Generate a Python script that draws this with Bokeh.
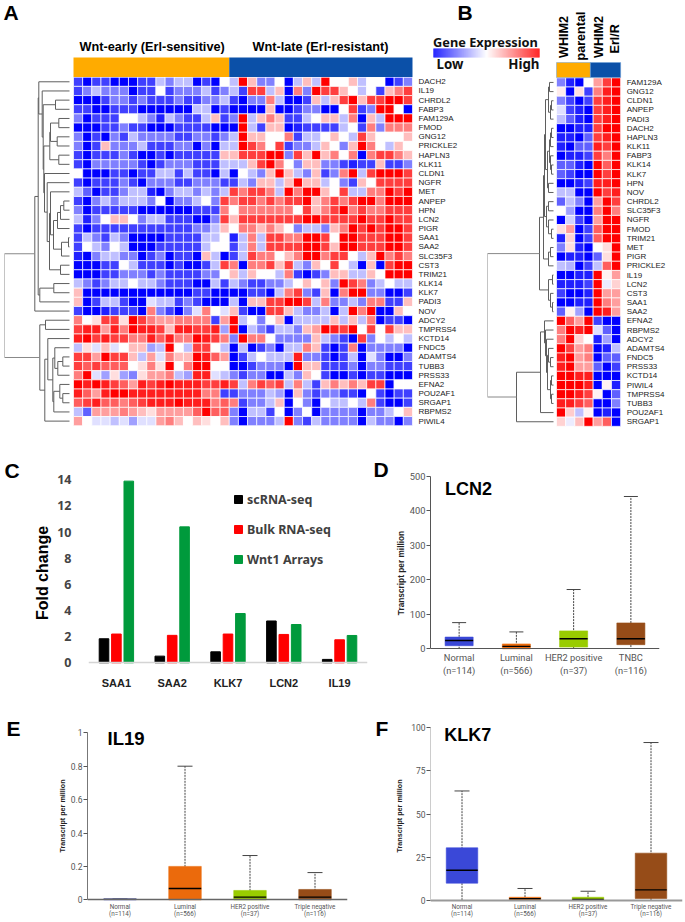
from bokeh.plotting import figure
from bokeh.layouts import column, row
from bokeh.models import (Range1d, LinearColorMapper, Label, Legend, LegendItem,
                          FixedTicker, Whisker, TeeHead, ColumnDataSource)
from bokeh.core.properties import value
from bokeh.embed import file_html
from bokeh.resources import INLINE
import math

# ---------- Panel A ----------
A_GENES = ["DACH2","IL19","CHRDL2","FABP3","FAM129A","FMOD","GNG12","PRICKLE2","HAPLN3","KLK11","CLDN1","NGFR",
           "MET","ANPEP","HPN","LCN2","PIGR","SAA1","SAA2","SLC35F3","CST3","TRIM21","KLK14","KLK7","PADI3","NOV",
           "ADCY2","TMPRSS4","KCTD14","FNDC5","ADAMTS4","TUBB3","PRSS33","EFNA2","POU2AF1","SRGAP1","RBPMS2","PIWIL4"]
A_EARLY = [
 [-3,-4,-3,-3,-4,-4,-4,-3,-3,-1,-2,-1,-1,-4,-3,-4,0],
 [-3,-2,-1,-2,-2,-2,-4,-3,-3,0,-3,-2,-2,-2,-1,-3,-2],
 [-4,-4,-4,-3,-2,-2,-3,-2,-3,-3,-3,-2,-3,-3,-2,-2,-1],
 [-3,-3,-4,-4,-3,-3,-3,-4,-4,-4,-4,-4,-4,-1,-1,-4,-3],
 [-2,-4,-3,-3,-3,0,0,-1,-2,-3.5,-1,-2,-3,-3,-1,1,-3],
 [-4,-4,-4,-3,-3,-2,-3,-3,-4,-4,-4,-3,-3,-3,-3,-4,-4],
 [-2,-4,-3,-4,-2,-3,-1,-2,-2,-2,-2,-3,-3,-2,-2,-3,-2],
 [-2,-4,-3,1,-2,-2,-2,-1,-3,-3,-3,-2,-2,-4,-2,-4,-1],
 [-3,-4,-3,-3,-3,-2,-3,-4,-4,-3,-4,-3,-3,-3,-3,-3,1],
 [-3,-4,-2,-2,-2,-2,-2,-3,-4,-3,-2,-2,-2,-3,-3,-3,-1],
 [0,-4,-4,-4,-3,-3,-4,-3,-3,-1,-1,-3,-1,-3,-3,-4,-1],
 [-3,-4,-3,-3,-3,-2,-3,-4,-2,-2,-2,-3,-3,-2,-2,-2,-3],
 [-1,-2.5,-4,-3,-3,-2,-1,-1,-3.5,-4,-2,-1,-1,-2,-1,-2,-1],
 [-3,-4,-2,-1,-2,-1,-1,-1,-2,0,-4,-2,-2,-1,0,-2,3],
 [-2,-4,-3,-3,-3,-3,-3,-4,-4,-4,-4,-4,-4,-3,-3,-3,2],
 [-1,-3.5,-2,0,1,1,0,-2,-1,-1,-3,-3,-3,-4,-4,-2,3],
 [-3,-4,-3,-3,-3,-3,-3,-3,-3,-3,-3,-3,-3,-2,-2,-1,1],
 [-3,-1,-2,-3,-1,-2,-4,-4,-4,-4,-3,-3,-3,-3,-1,-1,0],
 [-3,0,-1,-2,0,-1,-4,-4,-4,-3,-3,-3,-3,-3,-1,0,0],
 [-3.5,-4,-2,-1,-1,-2,-2,-4,-3,-2,-4,-3,-3,-4,1,-1,-4],
 [-4,-4,-4,-3,-3,0,-1,-3,-3,-3,-4,-3,-4,-4,-3,-1,3],
 [-4,-4,-4,-3,-3,-2,-2,-2,-3,-2,-3,-3,-3,-3,-2,-2,0],
 [-1,-2,-3,-2,-1,-1,0,-1,-1,-2,-3,-3,-3,-4,-4,-1,-3],
 [1,-4,-4,-4,-4,-4,-4,-4,-4,-4,-4,-4,-4,-3,-3,-4,-4],
 [1,-4,-3,-1,-1,-3,-4,-4,-0.5,-1,-1,-3,-2,-3,-4,-4,-4],
 [-3,-4,-4,-3.5,-3,-3,-3,-4,2,-2,-3,-4,-2,-0.5,2,0,-0.5],
 [2,0,0.5,3,3,0.5,4,3,2,1.5,1.5,2,2,2,2,-3,1.5],
 [3,3.5,3.5,1.5,3.5,2,4,3.5,3.5,3,1,3.5,3.5,3,3,3.5,-1.5],
 [3.5,4,3,3.5,3,3,2,2,3.5,2.5,3.5,2,2,4,3.5,3,2],
 [-1,0.5,-0.5,1,-0.5,0,1,1,-1.5,-1,4,0,-1,3,3,0,-1],
 [3,3,1.5,4,3,3,1,-1,1.5,-0.5,2,1,1,4,3.5,2.5,1.5],
 [3,2.5,3,2.5,2.5,2.5,0,0.5,2,0.5,4,0,2,4,4,0,0],
 [2,4,-0.5,-1.5,0.5,-1.5,-2,0.5,1.5,1.5,2,-1,-1.5,3.5,3.5,-0.5,-1],
 [4,3.5,4,3.5,3,2.5,1.5,3.5,3,3.5,4,3.5,3.5,3.5,3,3,3.5],
 [3.5,2.5,1.5,3.5,4,4,3.5,3.5,3.5,3.5,3.5,3.5,3.5,3.5,2,2,-3],
 [2.5,3,3.5,2.5,2.5,2,2.5,3,3.5,3.5,3.5,4,3.5,3.5,3.5,2,2.5],
 [-1,-2.5,1.5,1.5,1.5,2,1.5,1,0.5,1.5,1.5,1.5,1.5,2.5,4,2.5,2.5],
 [1.5,0,-0.5,-0.5,-1,-0.5,-1.5,-0.5,-0.5,1.5,2,1,0,1,0.5,0,1],
]
A_LATE = [
 [-1,4,1,-2,-2,0,-4,-1,1,-1,4,0,0,1,-1,0,0,-4,-3,-2],
 [-1,-3,3,3,-1,1,-4,2,-2,4,3,3,1,0,-1,0,-3,1,2,3],
 [-3,-4,-2,-2,2,-1,-4,-4,-3,1,-1,1,3,4,1,3,3,4,4,3],
 [-4,-4,-4,-4,1,-4,-4,-3,-2,-2,-4,-4,0,3,-3,-2,4,4,0,-4],
 [-2,4,-1,1,2,1,-3,-3,-1,0,1,1,-1,2,-4,1,-1,4,4,4],
 [-4,4,-1,-3,1,1,-4,-3.5,-3,-3,-3,-3,-1,0,-3,2,-2,2,2,2],
 [-1,4,1,1,0,0,2,-3,-1,-1,0,1,0,-1,3,1,0,0,0,1],
 [-1,4,3,2,0,3,-3,-2,-2,-1,1,0,-2,1,4,2,0,-1,1,0],
 [1,3,3,3,4,4,-2,3,1,4,1,2,0,2,-4,2,3,3,2,1],
 [-1,-1,1,3,4,2,0,-2,1,1,-2,-2,-3,-3.5,-3,-3,1,-3,-3,-2],
 [-4,0,-1,-2,1,4,1,-1,-2,1,-3,-2,2,4,-1,3,4,4,4,3],
 [-3,-1,-2,1,1,-1,1,4,1,1,-1,0,-2,-3,1,0,3,3,3,3],
 [3,2,3,3,2,-1,4,2,4,4,1,0,3,-1,-1,2,2,4,3,4],
 [2,3,3,2,3,2,3,3,4,1,2,3,2,3,4,4,2,4,4,4],
 [0,2,2,2,2,2,2,0,3,1,2,3,4,2,3,2,2,3,3,3],
 [1,3,3,3,3,3,3,3,4,4,3,3,3,3,4,3,3,4,3,3],
 [0,2,2,1,2,1,0,-2,-1,-1,-2,1,2,4,3,4,3,4,4,3],
 [-3.5,-1,2,-1,3,3,2,2,4,4,3,0,4,4,3,3,3,4,4,3],
 [-3,-1,2,-1,3,3,3,3,4,4,3,1,4,4,3,3,3,4,4,3],
 [-3,-1,3,2,2,0,1,2,4,4,2,3,3,0,-1,1,4,2,3,2],
 [2,-4,2,2,3,1,3,-1,-2,1,0,3,0,-1,-4,1,-4,3,4,4],
 [1,-1,1,0,0,-1,2,-3,-4,-3,-2,1,1,-1,-1,1,0,4,4,4],
 [-1,-2,-3,-3,-2,-2,-1,0,1,0,1,-2,4,3,2,-2,-1,0,-1,-1],
 [-4,-4,-3,-3,-4,-1,2,3,-2,-3,1,-4,2,4,4,-2,-2,-4,-4,-3],
 [-1,-4,1,1,3,3,4,4,3,-1,2,-2,-2,-1,-2,2,2,-3,-3,1],
 [1,-3,-4,-4,3,3,1,-1,-2,-2,-1,-4,-1,4,2,4,-4,-4,1,0],
 [4,-1,0,-2,0,1,-4,-1,-1,-1,-1,1,-1,1,-1,2,-4,-3,-3,-4],
 [4,-4,-1,-2,-3,-1,-1,-2,1,1.5,4,3.5,3,4,0,3,0,3,1,1],
 [-2,4,2,2,0,-2,-2,-2,-2,1,-1,-2,-3,-4,3,-2,0,-1,0,-1],
 [-4,-1,-4,-3,-2,-4,-1,-1,2,1,-3,-4,-3,2,-4,-2,-2,-2,-2,-4],
 [-4,-3,-1,0,-1,-1,-1,3.5,-2,-2,-3,-4,-3,-1,-4,-0.5,-2,-4,-4,-2],
 [-4,-4,-3,-2,-2,-2,-4,4,1,1,-3,-3,-3,-2,-4,-2,-2,-3,-3,-3],
 [-2,-3,-2,-2,-4,-4,-1,-2,1,0,-3,-4,-4,-3,-4,-3,-3,-4,-4,-4],
 [3,-1,2,3,2.5,3,-1,2,-1,-3,1,2,1,2,1,3,3,-4,0,0],
 [-3,-2,-2,-2,-1,-1.5,-4,1,-2,-3,-2,-2,-3,-3,-4,0,-3,-4,-3,-3],
 [2,-3,-2,-2,-1,1,-4,0,-2,-4,0,-1,-1,0,-1,2,-3,-4,-4,-3],
 [-2,-4,-1,-1,-3,0,-4,-2,0,-4,-2,-2,-2,-2,-4,-2,-2,-1,0,1],
 [-2,-4,-2,-2,-2,-1,4,-2,-3,-1,-2,-2,-2,-2,-4,-1,-2,-2,-4,-2],
]
A_TREE = (65,
  (34.7,
    (31.3,
      (30.7,"DACH2",(27.3,"IL19",(26.3,(14,"CHRDL2","FABP3"),
        (25.7,(19.7,(19,(10.7,"FAM129A","FMOD"),(12.3,"GNG12","PRICKLE2")),(10.7,"HAPLN3","KLK11")),
          (25,"CLDN1",(22.3,"NGFR",(20,(19,"MET",(16,(12,(9,(5.7,"ANPEP","HPN"),"LCN2"),"PIGR"),
             (8,(1,"SAA1","SAA2"),"SLC35F3"))),(9,"CST3","TRIM21")))))))),
      (29.7,(15.7,"KLK14","KLK7"),"PADI3")),
    "NOV"),
  (29.7,(24,"ADCY2","TMPRSS4"),
    (24.7,(21.7,"KCTD14",(16.7,(14.7,"FNDC5",(11.7,(6.7,"ADAMTS4","TUBB3"),"PRSS33")),
        (15.7,(9.7,"EFNA2",(6.7,"POU2AF1","SRGAP1")),"RBPMS2"))),"PIWIL4")))

# ---------- Panel B ----------
B_GENES = ["FAM129A","GNG12","CLDN1","ANPEP","PADI3","DACH2","HAPLN3","KLK11","FABP3","KLK14","KLK7","HPN","NOV",
           "CHRDL2","SLC35F3","NGFR","FMOD","TRIM21","MET","PIGR","PRICKLE2","IL19","LCN2","CST3","SAA1","SAA2",
           "EFNA2","RBPMS2","ADCY2","ADAMTS4","FNDC5","PRSS33","KCTD14","PIWIL4","TMPRSS4","TUBB3","POU2AF1","SRGAP1"]
B_PARENTAL = [
 [-2,-3.5,-4,0],[0.3,-4,0.5,-3],[-2,-3,-4,-3],[-0.5,-3,-3.5,-4],[-1,-2.5,-3.5,-4],[-4,-4,-3.5,-3.5],
 [-3.5,-3.5,-4,-2.5],[-3.5,-4,-2.5,-2.5],[-4,-3.5,-3.5,-3],[-2.5,-2.5,-3.5,-4],[-2.5,-3,-4,-4],[-4,-4,-3.5,-3],
 [-1,-1,-4,-4],[-2.5,-1,-2,-4],[0,-1.5,-4,-4],[-4,-0.7,-3,-4],[0.5,1.5,-4,-3],[-3.5,0.7,-4,-3],[-2,0.5,-3.5,-4],
 [-4,-3.5,-3.5,-4],[-1,-1.2,-4,-3],[-4,-4,-3.5,-3.5],[-3.5,-3.5,-3.5,-3],[-3,-4,-4,-3.5],[-4,-4,-3.5,-3.5],
 [-2.5,0.2,-1.5,-4],[4,2.5,1.5,4],[2,4,3.5,4],[2,4,0.7,0],[4,3,1.5,2],[3.5,4,1.5,2],[3.5,4,1.5,1.5],
 [4,4,3.5,3.5],[4,4,4,3.5],[4,4,3.5,3],[3.5,3.5,3,2.5],[4,0.8,-1,0.2],[0.7,-0.3,1,4],
]
B_RESISTANT = [
 [1.5,3,4],[2,3.5,4],[3,3.5,4],[3,3.5,4],[3,3.5,4],[3,4,4],[3,3.5,4],[3.5,3,4],[3,2,4],[4,2.5,4],[4,3,4],[3.5,3.5,4],
 [4,3,3.5],[1.5,4,3],[2,4,2],[1.5,4,4],[2.5,4,4],[2.5,4,4],[0,0.5,4],[-2.5,0.5,4],[-1,2.5,4],[4,0.2,1.5],[4,-0.3,0.7],
 [4,1.5,1.5],[4,2,1.5],[4,3.5,1.5],[-3,-4,-4],[-0.5,-2.5,-4],[-3.5,-1.5,-4],[-4,-3.5,-1],[-4,-2.5,-2.5],[-2.5,-4,-3],
 [-4,-4,-4],[-4,0.2,-3.5],[0.2,-4,-2.5],[-4,-4,-2],[-4,-3.5,-4],[1.5,2.5,-4],
]
B_TREE = (66,
  (14,(10,(9,(8,(5,(4,"FAM129A","GNG12"),(3,(2,"CLDN1","ANPEP"),"PADI3")),
              (6,(4,(3,(2,"DACH2","HAPLN3"),"KLK11"),(3,"FABP3",(2,"KLK14","KLK7"))),(5,"HPN","NOV"))),
            (7,(5,"CHRDL2","SLC35F3"),(5,"NGFR",(2,"FMOD","TRIM21")))),
        (5,(3,"MET","PIGR"),"PRICKLE2")),
      (5,(1,"IL19","LCN2"),(3,"CST3",(1,"SAA1","SAA2")))),
  (37,(13,(9,"EFNA2",(8,"RBPMS2",(7,"ADCY2",(6,(5,"ADAMTS4",(3,"FNDC5","PRSS33")),
        (3,(2,"KCTD14","PIWIL4"),(2,"TMPRSS4","TUBB3")))))),"POU2AF1"),"SRGAP1"))

# ---------- Panel C ----------
C_GENES = ["SAA1","SAA2","KLK7","LCN2","IL19"]
C_SC = [1.84,0.51,0.84,3.2,0.26]
C_BULK = [2.2,2.1,2.2,2.17,1.76]
C_WNT = [13.9,10.4,3.77,2.93,2.09]

# ---------- Panels D, E, F ----------
D_CATS = ["Normal\n(n=114)","Luminal\n(n=566)","HER2 positive\n(n=37)","TNBC\n(n=116)"]
D_HI = [76,49,172,442]; D_Q3 = [34,14,52,75]; D_MED = [24,7,29,29]; D_Q1 = [9,0,5,12]; D_LO = [0,0,2,5]
EF_CATS = ["Normal\n(n=114)","Luminal\n(n=566)","HER2 positive\n(n=37)","Triple negative\n(n=116)"]
E_HI = [0.006,0.80,0.265,0.163]; E_Q3 = [0.006,0.20,0.056,0.062]; E_MED = [0.003,0.068,0.016,0.016]; E_Q1 = [0,0,0,0]; E_LO = [0,0,0,0]
F_HI = [63.4,6.8,5.2,91.5]; F_Q3 = [30.4,1.7,1.7,27.3]; F_MED = [17.4,0.8,0.5,6]; F_Q1 = [9.9,0,0,1]; F_LO = [0,0,0,0]
BOX_COLORS = ["#3A48D8","#EB6A0C","#99CC00","#964C18"]

SANS = "Liberation Sans"
N = 256
PAL = []
for i in range(N):
    t = i/(N-1)*2-1
    if t < 0:
        c = int(round(255*(1+t))); PAL.append("#%02x%02xff" % (c,c))
    else:
        c = int(round(255*(1-t))); PAL.append("#ff%02x%02x" % (c,c))
MAP = LinearColorMapper(palette=PAL, low=-4, high=4)

def base(width, height, x_range, y_range, ox, oy, left=0, right=0, top=0, bottom=0):
    p = figure(width=width, height=height, x_range=x_range, y_range=y_range, toolbar_location=None,
               output_backend="svg", min_border_left=left, min_border_right=right, min_border_top=top,
               min_border_bottom=bottom, outline_line_color=None)
    p.xgrid.visible = False; p.ygrid.visible = False
    p.extra_x_ranges["px"] = Range1d(ox+left, ox+width-right)
    p.extra_y_ranges["px"] = Range1d(oy+height-bottom, oy+top)
    return p

def put(p, text, x, y, size, bold=False, color="#000000", font=SANS, align="left", angle=0):
    p.add_layout(Label(x=x, y=y, text=text, x_range_name="px", y_range_name="px",
        text_font=font, text_font_size=f"{size}px", text_font_style="bold" if bold else "normal",
        text_color=color, text_align=align, text_baseline="middle", angle=angle))

def dendro(p, tree, order, leaf_gap, scale, n, x0=0, y0=0):
    idx = {g:i for i,g in enumerate(order)}
    xs0, ys0, xs1, ys1, cols = [], [], [], [], []
    def X(h): return x0-(h+leaf_gap)/scale
    def walk(node, root=False):
        if isinstance(node, str):
            return n-idx[node]-0.5+y0, 0
        h, a, b = node
        ya, ha = walk(a); yb, hb = walk(b)
        col = "#c4c4c4" if root else "#5f5f5f"
        for yy, hh in ((ya,ha),(yb,hb)):
            xs0.append(X(h)); xs1.append(X(hh)); ys0.append(yy); ys1.append(yy); cols.append("#888888" if root else col)
        xs0.append(X(h)); xs1.append(X(h)); ys0.append(ya); ys1.append(yb); cols.append(col)
        return (ya+yb)/2, h
    walk(tree, True)
    p.segment(xs0, ys0, xs1, ys1, line_color=cols, line_width=1)

def heat(p, matrix, nrows, x0=0, y0=0):
    xs, ys, vals = [], [], []
    for r, rowv in enumerate(matrix):
        for c, v in enumerate(rowv):
            xs.append(x0+c+0.5); ys.append(nrows-r-0.5+y0); vals.append(v)
    src = ColumnDataSource(dict(x=xs, y=ys, v=vals))
    p.rect("x", "y", width=1, height=1, source=src, fill_color={"field":"v","transform":MAP},
           line_color="white", line_width=0.7)

def cat_axis(p, cats):
    centers = [i+0.5 for i in range(len(cats))]
    p.xaxis.ticker = FixedTicker(ticks=centers)
    p.xaxis.major_label_overrides = dict(zip(centers, cats))
    p.xaxis.major_tick_out = 0; p.xaxis.major_tick_in = 0; p.xaxis.minor_tick_out = 0
    p.xaxis.fixed_location = 0
    return centers

def letter(width, height, ox, oy, top, bottom, text, x, y):
    p = base(width, height, Range1d(0, 1), Range1d(0, 1), ox, oy, top=top, bottom=bottom)
    p.axis.visible = False
    p.scatter([0.5], [0.5], size=0, alpha=0)
    put(p, text, x, y, 21, True)
    return p

ORANGE, BLUE = "#FFAB00", "#0B50A8"

# ---- top figure: panels A and B ----
assert all(len(r)==17 for r in A_EARLY) and all(len(r)==20 for r in A_LATE) and len(A_EARLY)==38==len(A_LATE)
assert all(len(r)==4 for r in B_PARENTAL) and all(len(r)==3 for r in B_RESISTANT) and len(B_PARENTAL)==38==len(B_RESISTANT)
cw, ch = 9.162, 9.17
xB = (556-73)/cw
yB = -0.07
pT = base(685, 445, Range1d(-73/cw, (685-73)/cw), Range1d(-(445-425.2)/ch, 38+76.7/ch), 0, 0)
pT.axis.visible = False
heat(pT, [a+b for a,b in zip(A_EARLY, A_LATE)], 38)
pT.quad(left=[0,17], right=[17,37], bottom=[38.03]*2, top=[38+(76.7-57)/ch]*2, fill_color=[ORANGE,BLUE], line_color=None)
dendro(pT, A_TREE, A_GENES, 4, cw, 38)
pT.text(x=[37+6/cw]*38, y=[38-i-0.5 for i in range(38)], text=A_GENES, text_font=value(SANS), text_font_size="8px",
        text_baseline="middle", text_color="#222222")
put(pT, "A", 3, 12, 21, True)
put(pT, "Wnt-early (Erl-sensitive)", 79, 46, 12.7, True)
put(pT, "Wnt-late (Erl-resistant)", 252, 46, 12.7, True)

heat(pT, [a+b for a,b in zip(B_PARENTAL, B_RESISTANT)], 38, xB, yB)
pT.quad(left=[xB,xB+3.7], right=[xB+3.7,xB+7], bottom=[38.03+yB]*2, top=[38+(76.7-62)/ch]*2, fill_color=[ORANGE,BLUE], line_color="#6fa0d8", line_width=0.5)
dendro(pT, B_TREE, B_GENES, 3, cw, 38, xB, yB)
pT.text(x=[xB+7+6/cw]*38, y=[38-i-0.5+yB for i in range(38)], text=B_GENES, text_font=value(SANS), text_font_size="8px",
        text_baseline="middle", text_color="#222222")
KEY = [-4+8*i/105 for i in range(106)]
pT.rect(x=[(433+i+0.5-73)/cw for i in range(106)], y=[38+(76.7-52.5)/ch]*106, width=1.2/cw, height=9/ch,
        fill_color=[PAL[min(255,int((k+4)/8*255))] for k in KEY], line_color=None)
put(pT, "B", 457, 12, 21, True)
put(pT, "Gene Expression", 432.5, 41, 12.8, True, "#111111", "Noto Sans")
put(pT, "Low", 436, 63, 13.3, True, "#111111", "Noto Sans")
put(pT, "High", 539, 63, 13.3, True, "#111111", "Noto Sans", align="right")
put(pT, "WHIM2", 563, 57.5, 12.6, True, angle=math.pi/2)
put(pT, "parental", 580, 60, 12.6, True, angle=math.pi/2)
put(pT, "WHIM2", 598, 57.5, 12.6, True, angle=math.pi/2)
put(pT, "Erl/R", 614, 53, 12.6, True, angle=math.pi/2)

# ---- C ----  (frames of a row are aligned by Bokeh, so both rows share a tall frame and the
#                value-axes are pinned at 0 with fixed_location)
R2_TOP, R2_BOTTOM = 10, 0     # frame y = 455 .. 690
pxC = 13.07
lC = letter(30, 245, 0, 445, R2_TOP, R2_BOTTOM, "C", 4, 469.5)
pC = base(342, 245, Range1d(0, 5), Range1d(-(690-662.3)/pxC, (662.3-455)/pxC), 30, 445, left=58, right=5, top=R2_TOP, bottom=R2_BOTTOM)
cx = cat_axis(pC, C_GENES)
bw, off = 0.172, 0.222
r1 = pC.vbar(x=[c-off for c in cx], top=C_SC, width=bw, color="#000000")
r2 = pC.vbar(x=cx, top=C_BULK, width=bw, color="#FF0000")
r3 = pC.vbar(x=[c+off for c in cx], top=C_WNT, width=bw, color="#009A3C")
pC.yaxis.ticker = FixedTicker(ticks=[0,2,4,6,8,10,12,14])
pC.yaxis.axis_line_color = None; pC.yaxis.major_tick_line_color = None; pC.yaxis.minor_tick_line_color = None
pC.yaxis.major_tick_out = 0; pC.yaxis.major_tick_in = 0
pC.yaxis.major_label_text_font = "Noto Sans"; pC.yaxis.major_label_text_font_style = "bold"
pC.yaxis.major_label_text_font_size = "12.5px"; pC.yaxis.major_label_text_color = "#444444"
pC.yaxis.major_label_standoff = 17
pC.yaxis.axis_label = "Fold change"; pC.yaxis.axis_label_text_font = SANS; pC.yaxis.axis_label_text_font_style = "bold"
pC.yaxis.axis_label_text_font_size = "16px"; pC.yaxis.axis_label_text_color = "#000000"; pC.yaxis.axis_label_standoff = 3
pC.xaxis.axis_line_color = "#d4d4d4"; pC.xaxis.axis_line_width = 1.5
pC.xaxis.major_tick_line_color = None; pC.xaxis.minor_tick_line_color = None
pC.xaxis.major_label_text_font = SANS; pC.xaxis.major_label_text_font_style = "bold"
pC.xaxis.major_label_text_font_size = "11px"; pC.xaxis.major_label_text_color = "#222222"; pC.xaxis.major_label_standoff = 14
leg = Legend(items=[LegendItem(label="scRNA-seq", renderers=[r1]), LegendItem(label="Bulk RNA-seq", renderers=[r2]),
                    LegendItem(label="Wnt1 Arrays", renderers=[r3])],
             location=(145, 121), glyph_width=10, glyph_height=10, label_standoff=4, spacing=10, padding=0, margin=0,
             border_line_color=None, background_fill_alpha=0, label_text_font="Noto Sans", label_text_font_style="bold",
             label_text_font_size="12.5px", label_text_color="#404040", label_height=20)
pC.add_layout(leg, "center")

# ---- box plots ----
def box(p, cats, hi, q3, med, q1, lo, bw, cap, ylabel_size, tick_size, cat_size, line_h, standoff, ticks, ycolor, xcolor, xwidth, title_std, med_colors=None):
    cx = cat_axis(p, cats)
    src = ColumnDataSource(dict(x=cx, hi=hi, q3=q3, med=med, q1=q1, lo=lo, c=BOX_COLORS,
                                m=med_colors or ["#000000"]*len(cats)))
    p.add_layout(Whisker(source=src, base="x", upper="hi", lower="lo", dimension="height",
                         line_color="#444444", line_dash="2 1", line_width=1,
                         upper_head=TeeHead(size=cap, line_color="#444444", line_width=1), lower_head=None))
    p.vbar(x="x", bottom="q1", top="q3", width=bw, fill_color="c", line_color="c", line_alpha=0.6, source=src)
    p.vbar(x="x", bottom="med", top="med", width=bw, line_color="m", line_width=1.4, source=src)
    p.yaxis.ticker = FixedTicker(ticks=ticks)
    p.yaxis.bounds = (ticks[0], ticks[-1])
    p.yaxis.minor_tick_line_color = None
    p.yaxis.major_tick_out = 4; p.yaxis.major_tick_in = 0
    p.yaxis.axis_line_color = ycolor; p.yaxis.major_tick_line_color = "#555555"
    p.yaxis.major_label_text_font = "Roboto"; p.yaxis.major_label_text_font_size = f"{tick_size}px"
    p.yaxis.major_label_text_color = "#555555"; p.yaxis.major_label_standoff = 1
    p.yaxis.axis_label = "Transcript per million"; p.yaxis.axis_label_text_font = SANS
    p.yaxis.axis_label_text_font_style = "bold"; p.yaxis.axis_label_text_font_size = f"{ylabel_size}px"
    p.yaxis.axis_label_text_color = "#222222"; p.yaxis.axis_label_standoff = title_std
    p.xaxis.axis_line_color = xcolor; p.xaxis.axis_line_width = xwidth
    p.xaxis.major_tick_line_color = None; p.xaxis.minor_tick_line_color = None
    p.xaxis.major_label_text_font = "Roboto"; p.xaxis.major_label_text_font_size = f"{cat_size}px"
    p.xaxis.major_label_text_color = "#555555"; p.xaxis.major_label_standoff = standoff
    p.xaxis.major_label_text_line_height = line_h

pxD = 172.3/500
lD = letter(20, 245, 372, 445, R2_TOP, R2_BOTTOM, "D", 373, 469)
pD = base(293, 245, Range1d(0, 4), Range1d(-(690-648.3)/pxD, (648.3-455)/pxD), 392, 445, left=32, right=26, top=R2_TOP, bottom=R2_BOTTOM)
box(pD, D_CATS, D_HI, D_Q3, D_MED, D_Q1, D_LO, 0.49, 14, 8.3, 9.3, 9.3, 1.17, 3, [0,100,200,300,400,500], "#555555", "#555555", 1, 1)
put(pD, "LCN2", 439, 488, 18, True)

R3_TOP, R3_BOTTOM = 20, 1     # frame y = 710 .. 921
pxE, pxF = 167.0, 1.723
lE = letter(30, 232, 0, 690, R3_TOP, R3_BOTTOM, "E", 6, 728)
pE = base(335, 232, Range1d(0, 4), Range1d(-(921-899.3)/pxE, (899.3-710)/pxE), 30, 690, left=57, right=18, top=R3_TOP, bottom=R3_BOTTOM)
box(pE, EF_CATS, E_HI, E_Q3, E_MED, E_Q1, E_LO, 0.5, 15, 7.2, 8.5, 6.3, 0.9, 3, [0,0.2,0.4,0.6,0.8,1], "#777777", "#666666", 1.5, 1,
    med_colors=["#777777","#000000","#000000","#000000"])
put(pE, "IL19", 107, 738, 18.5, True)

lF = letter(27, 232, 365, 690, R3_TOP, R3_BOTTOM, "F", 375, 728)
pF = base(293, 232, Range1d(0, 4), Range1d(-(921-899.7)/pxF, (899.7-710)/pxF), 392, 690, left=32, right=3, top=R3_TOP, bottom=R3_BOTTOM)
box(pF, EF_CATS, F_HI, F_Q3, F_MED, F_Q1, F_LO, 0.5, 15, 7.2, 8.5, 6.3, 0.9, 3, [0,25,50,75,100], "#cccccc", "#999999", 2, 4)
put(pF, "KLK7", 438, 734, 18, True)

page = column(pT, row(lC, pC, lD, pD), row(lE, pE, lF, pF), spacing=0)
open("out.html", "w").write(file_html(page, INLINE))
